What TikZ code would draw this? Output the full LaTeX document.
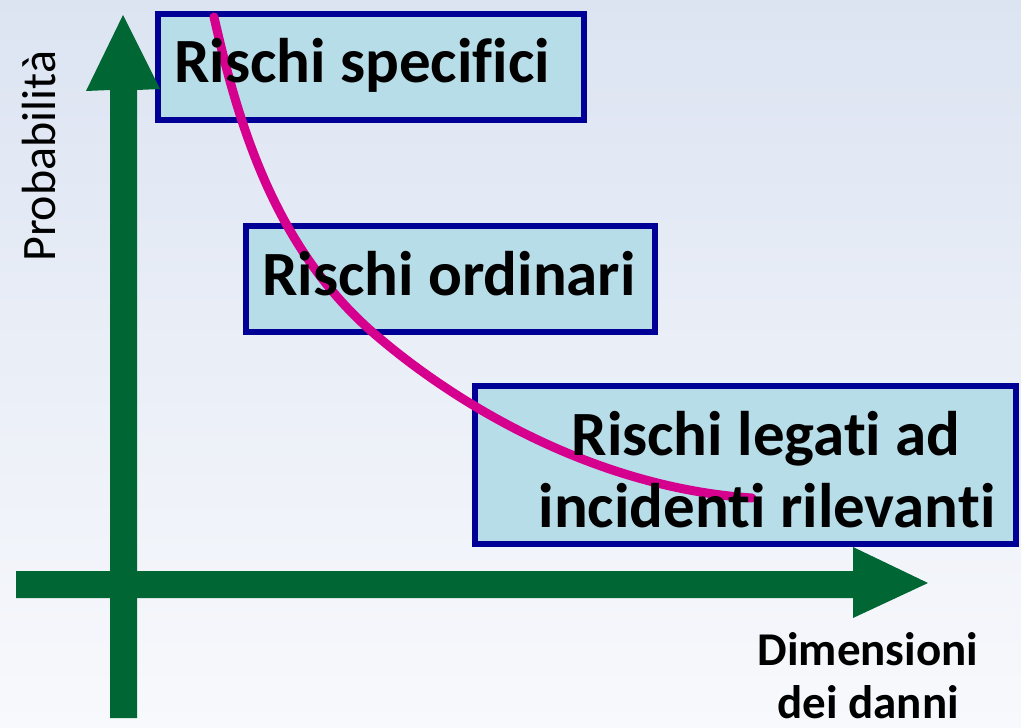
\documentclass[tikz,border=0pt]{standalone}
\usepackage{fontspec}
\setmainfont[Ligatures={NoCommon}]{Carlito}
\begin{document}
\begin{tikzpicture}[x=1pt,y=-1pt,
  box/.style={draw=boxblue, fill=boxfill, line width=6pt, inner sep=0pt, minimum width=#1},
  boxtext/.style={font=\bfseries\fontsize{63}{72}\selectfont, inner sep=0pt, text=black},
  axistext/.style={font=\bfseries\fontsize{47}{53}\selectfont, inner sep=0pt, text=black},
  ylabel/.style={font=\fontsize{48}{53}\selectfont, inner sep=0pt, text=black},
  curveline/.style={draw=curvemag, line width=9pt, line cap=round}]
\definecolor{bgtop}{RGB}{220,228,242}
\definecolor{bgbot}{RGB}{248,249,252}
\definecolor{boxblue}{RGB}{0,0,150}
\definecolor{boxfill}{RGB}{183,221,232}
\definecolor{axisgreen}{RGB}{0,102,51}
\definecolor{curvemag}{RGB}{214,0,143}
\useasboundingbox (0,0) rectangle (1021,728);
\shade[top color=bgtop, bottom color=bgbot] (0,0) rectangle (1021,728);
% boxes
\node[box=426pt, minimum height=106pt] (b1) at (371,67) {};
\node[box=409pt, minimum height=106pt] (b2) at (450.5,279) {};
\node[box=541pt, minimum height=158pt] (b3) at (745.5,465) {};
% axes
\coordinate (vtip) at (123,15);
\coordinate (htip) at (928,583);
\fill[axisgreen] (110,718) -- (110,90) -- (86,91) -- (vtip) -- (160,89) -- (137,90) -- (137,718) -- cycle;
\fill[axisgreen] (16,571) -- (853,571) -- (853,547) -- (htip) -- (853,618) -- (853,598) -- (16,598) -- cycle;
% curve
\coordinate (cstart) at (214,17);
\coordinate (cmid) at (370,330);
\coordinate (cend) at (752,498);
\draw[curveline] (cstart) .. controls (239,127) and (275,245) .. (cmid)
  .. controls (460,409) and (600,488) .. (cend);
% texts
\node[boxtext, anchor=base west] (t1) at (174,82) {Rischi specifici};
\node[boxtext, anchor=base west] (t2) at (262,295) {Rischi ordinari};
\node[boxtext, anchor=base] (t3a) at (766,455) {Rischi legati ad};
\node[boxtext, anchor=base] (t3b) at (767,527) {incidenti rilevanti};
\node[ylabel, anchor=base west, rotate=90] (py) at (56,262) {Probabilità};
\node[axistext, anchor=base] (dx1) at (868,665) {Dimensioni};
\node[axistext, anchor=base] (dx2) at (868,718) {dei danni};
\end{tikzpicture}
\end{document}
